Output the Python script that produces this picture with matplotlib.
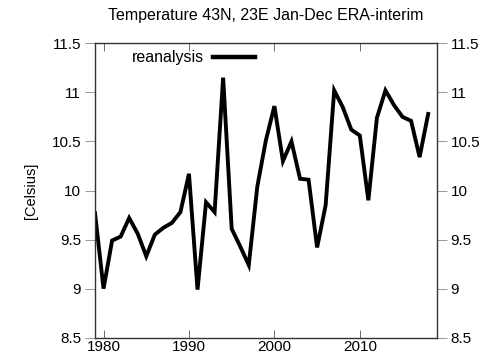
import matplotlib
matplotlib.use("Agg")
import matplotlib.pyplot as plt

plt.rcParams['font.family'] = ['Liberation Sans', 'DejaVu Sans']

years = list(range(1979, 2019))
temps = [9.77, 9.00, 9.49, 9.53, 9.72, 9.56, 9.33, 9.55, 9.62, 9.67,
         9.78, 10.17, 8.99, 9.88, 9.78, 11.15, 9.61, 9.43, 9.24, 10.04,
         10.51, 10.86, 10.30, 10.50, 10.12, 10.11, 9.42, 9.85, 11.02, 10.85,
         10.62, 10.56, 9.90, 10.74, 11.02, 10.87, 10.75, 10.71, 10.34, 10.78]
yticks = [8.5, 9, 9.5, 10, 10.5, 11, 11.5]
ytick_labels = ['8.5', '9', '9.5', '10', '10.5', '11', '11.5']
xticks = [1980, 1990, 2000, 2010]

fig = plt.figure(figsize=(4.92, 3.62), dpi=100)
ax = fig.add_axes([95/492, 1-337.7/362, (436.7-95)/492, (337.7-43.3)/362])

ax.plot(years, temps, color='black', lw=2.8, solid_joinstyle='miter')
ax.set_xlim(1979, 2019)
ax.set_ylim(8.5, 11.5)

ax.set_xticks(xticks)
ax.set_yticks(yticks)
ax.set_yticklabels(ytick_labels)
ax.tick_params(axis='x', direction='in', top=True, length=6, width=0.6,
               color='#555555', labelsize=11, pad=2)
ax.tick_params(axis='y', direction='out', right=True, labelright=True,
               length=7, width=0.6, color='#888888', labelsize=11, pad=3)
for s in ax.spines.values():
    s.set_color('#333333')
    s.set_linewidth(1.0)

ax.set_ylabel('[Celsius]', fontsize=10.5, labelpad=10)
ax.set_title('Temperature 43N, 23E Jan-Dec ERA-interim', fontsize=11.5, pad=17)

leg = ax.legend(['reanalysis'], loc='upper left', frameon=False, fontsize=11.5,
                markerfirst=False, handlelength=2.6, handletextpad=0.6,
                bbox_to_anchor=(0.065, 1.025))
for h in leg.legend_handles:
    h.set_linewidth(3.2)

fig.savefig('out.png', dpi=100)
